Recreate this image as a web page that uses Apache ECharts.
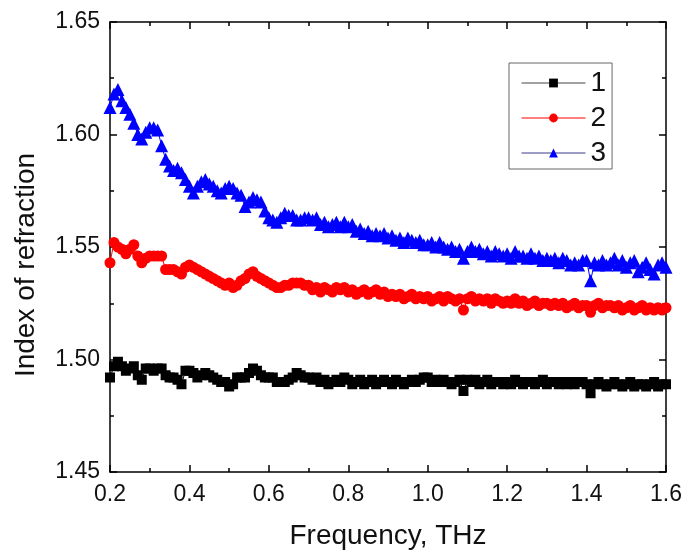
<!DOCTYPE html>
<html><head><meta charset="utf-8">
<script src="https://cdn.jsdelivr.net/npm/echarts@6/dist/echarts.min.js"></script>
<style>html,body{margin:0;padding:0;background:#fff}#c{width:685px;height:558px}</style>
</head><body><div id="c"></div>
<script>
const freq = [
0.20,0.21,0.22,0.23,0.24,0.25,0.26,0.27,0.28,0.29,
0.30,0.31,0.32,0.33,0.34,0.35,0.36,0.37,0.38,0.39,
0.40,0.41,0.42,0.43,0.44,0.45,0.46,0.47,0.48,0.49,
0.50,0.51,0.52,0.53,0.54,0.55,0.56,0.57,0.58,0.59,
0.60,0.61,0.62,0.63,0.64,0.65,0.66,0.67,0.68,0.69,
0.70,0.71,0.72,0.73,0.74,0.75,0.76,0.77,0.78,0.79,
0.80,0.81,0.82,0.83,0.84,0.85,0.86,0.87,0.88,0.89,
0.90,0.91,0.92,0.93,0.94,0.95,0.96,0.97,0.98,0.99,
1.00,1.01,1.02,1.03,1.04,1.05,1.06,1.07,1.08,1.09,
1.10,1.11,1.12,1.13,1.14,1.15,1.16,1.17,1.18,1.19,
1.20,1.21,1.22,1.23,1.24,1.25,1.26,1.27,1.28,1.29,
1.30,1.31,1.32,1.33,1.34,1.35,1.36,1.37,1.38,1.39,
1.40,1.41,1.42,1.43,1.44,1.45,1.46,1.47,1.48,1.49,
1.50,1.51,1.52,1.53,1.54,1.55,1.56,1.57,1.58,1.59,
1.60];

const series1 = [
1.492,1.497,1.499,1.497,1.495,1.496,1.497,1.493,1.491,1.496,
1.496,1.495,1.496,1.496,1.493,1.492,1.492,1.491,1.489,1.495,
1.495,1.494,1.492,1.493,1.494,1.493,1.492,1.491,1.490,1.490,
1.488,1.489,1.492,1.492,1.492,1.494,1.496,1.495,1.493,1.492,
1.492,1.492,1.490,1.490,1.490,1.491,1.492,1.494,1.493,1.492,
1.492,1.491,1.492,1.490,1.491,1.489,1.490,1.491,1.490,1.492,
1.491,1.489,1.490,1.491,1.489,1.490,1.491,1.489,1.490,1.491,
1.490,1.489,1.491,1.490,1.489,1.490,1.491,1.490,1.491,1.492,
1.492,1.490,1.491,1.490,1.491,1.490,1.489,1.490,1.491,1.486,
1.491,1.490,1.491,1.489,1.490,1.491,1.489,1.490,1.490,1.489,
1.490,1.489,1.491,1.490,1.489,1.490,1.490,1.489,1.490,1.491,
1.489,1.490,1.490,1.489,1.490,1.489,1.490,1.489,1.490,1.490,
1.489,1.485,1.489,1.490,1.489,1.488,1.489,1.490,1.489,1.488,
1.489,1.490,1.488,1.489,1.489,1.488,1.489,1.490,1.488,1.489,
1.489];

const series2 = [
1.543,1.552,1.550,1.549,1.547,1.549,1.551,1.546,1.543,1.545,
1.546,1.546,1.546,1.546,1.540,1.540,1.540,1.539,1.538,1.541,
1.542,1.541,1.540,1.539,1.538,1.537,1.536,1.535,1.534,1.533,
1.534,1.532,1.533,1.535,1.536,1.538,1.539,1.537,1.536,1.535,
1.534,1.533,1.532,1.532,1.533,1.533,1.534,1.534,1.534,1.533,
1.533,1.531,1.532,1.530,1.532,1.531,1.530,1.532,1.531,1.532,
1.530,1.531,1.529,1.530,1.531,1.529,1.530,1.531,1.529,1.530,
1.528,1.529,1.528,1.529,1.527,1.528,1.529,1.527,1.528,1.527,
1.528,1.526,1.527,1.528,1.526,1.528,1.527,1.526,1.527,1.522,
1.527,1.528,1.526,1.527,1.526,1.527,1.525,1.527,1.526,1.525,
1.526,1.525,1.527,1.525,1.526,1.524,1.525,1.526,1.524,1.525,
1.525,1.524,1.525,1.524,1.525,1.523,1.524,1.525,1.523,1.524,
1.524,1.521,1.524,1.525,1.523,1.524,1.524,1.523,1.524,1.522,
1.523,1.524,1.522,1.523,1.524,1.522,1.523,1.522,1.523,1.522,
1.523];

const series3 = [
1.612,1.618,1.620,1.615,1.612,1.609,1.605,1.600,1.598,1.601,
1.603,1.603,1.602,1.595,1.589,1.586,1.584,1.585,1.583,1.580,
1.577,1.574,1.577,1.579,1.580,1.578,1.577,1.575,1.574,1.576,
1.577,1.576,1.574,1.573,1.568,1.570,1.572,1.571,1.570,1.566,
1.563,1.562,1.561,1.563,1.565,1.564,1.564,1.562,1.562,1.563,
1.563,1.562,1.563,1.560,1.561,1.559,1.560,1.561,1.559,1.561,
1.559,1.560,1.557,1.558,1.556,1.557,1.555,1.556,1.555,1.556,
1.554,1.555,1.553,1.554,1.552,1.554,1.553,1.552,1.553,1.551,
1.551,1.552,1.550,1.552,1.550,1.549,1.550,1.548,1.549,1.545,
1.548,1.550,1.548,1.549,1.547,1.548,1.546,1.548,1.547,1.546,
1.547,1.545,1.548,1.546,1.546,1.545,1.547,1.545,1.546,1.544,
1.545,1.544,1.545,1.543,1.545,1.544,1.542,1.543,1.542,1.544,
1.544,1.535,1.543,1.542,1.544,1.542,1.543,1.545,1.542,1.544,
1.541,1.543,1.544,1.539,1.541,1.543,1.540,1.538,1.542,1.543,
1.541];

const seriesNames = ['1', '2', '3'];
const xTickLabels = ['0.2','0.4','0.6','0.8','1.0','1.2','1.4','1.6'];
const yTickLabels = ['1.45','1.50','1.55','1.60','1.65'];

const FONT = '"Liberation Sans", Arial, sans-serif';
const pick = (arr, v) => arr.find(t => Math.abs(parseFloat(t) - v) < 1e-6) || '';

const lineStyleAxis = { color: '#000', width: 1.5 };
function xAx(pos, withLabels) {
  return {
    type: 'value', position: pos, min: 0.2, max: 1.6, interval: 0.2,
    axisLine: { show: true, onZero: false, lineStyle: lineStyleAxis },
    axisTick: { show: true, inside: true, length: 7, lineStyle: lineStyleAxis },
    minorTick: { show: true, splitNumber: 2, length: 4, lineStyle: lineStyleAxis },
    splitLine: { show: false },
    axisLabel: { show: withLabels, margin: 11, fontSize: 23, fontFamily: FONT, color: '#111',
      formatter: v => pick(xTickLabels, v), showMinLabel: true, showMaxLabel: true },
    name: withLabels ? 'Frequency, THz' : '',
    nameLocation: 'middle', nameGap: 50,
    nameTextStyle: { fontSize: 28, fontFamily: FONT, color: '#111' }
  };
}
function yAx(pos, withLabels) {
  return {
    type: 'value', position: pos, min: 1.45, max: 1.65, interval: 0.05,
    axisLine: { show: true, onZero: false, lineStyle: lineStyleAxis },
    axisTick: { show: true, inside: true, length: 7, lineStyle: lineStyleAxis },
    minorTick: { show: true, splitNumber: 2, length: 4, lineStyle: lineStyleAxis },
    splitLine: { show: false },
    axisLabel: { show: withLabels, margin: 10, fontSize: 23, fontFamily: FONT, color: '#111',
      formatter: v => pick(yTickLabels, v), showMinLabel: true, showMaxLabel: true },
    name: withLabels ? 'Index of refraction' : '',
    nameLocation: 'middle', nameGap: 70,
    nameTextStyle: { fontSize: 28, fontFamily: FONT, color: '#111', padding: [0, 36, 0, 0] }
  };
}

const colors = ['#000000', '#ff0000', '#0000ff'];
const legendLineColors = ['#444444', '#ff0000', '#3a3a8a'];
const symbols = ['rect', 'circle', 'triangle'];
const sizes = [10, 11, 13];
const allVals = [series1, series2, series3];

const chart = echarts.init(document.getElementById('c'), null, { renderer: 'canvas' });
chart.setOption({
  animation: false,
  backgroundColor: '#fff',
  grid: { left: 110, right: 16, top: 22, bottom: 86, containLabel: false },
  xAxis: [xAx('bottom', true), xAx('top', false)],
  yAxis: [yAx('left', true), yAx('right', false)],
  legend: {
    orient: 'vertical', left: 509, top: 63,
    padding: [6, 6, 2, 12],
    borderColor: '#666', borderWidth: 1, backgroundColor: '#fff',
    itemWidth: 64, itemHeight: 11, itemGap: 7,
    textStyle: { fontSize: 28, fontFamily: FONT, color: '#111', lineHeight: 28 },
    data: seriesNames.map((n, k) => ({ name: n, itemStyle: { color: colors[k] }, lineStyle: { color: legendLineColors[k], width: 1 } }))
  },
  series: seriesNames.map((n, k) => ({
    name: n, type: 'line',
    xAxisIndex: 0, yAxisIndex: 0,
    data: freq.map((f, i) => [f, allVals[k][i]]),
    symbol: symbols[k], symbolSize: sizes[k], showAllSymbol: true,
    itemStyle: { color: colors[k] },
    lineStyle: { color: colors[k], width: 1 },
    z: 2 + k
  }))
});
</script>
</body></html>
